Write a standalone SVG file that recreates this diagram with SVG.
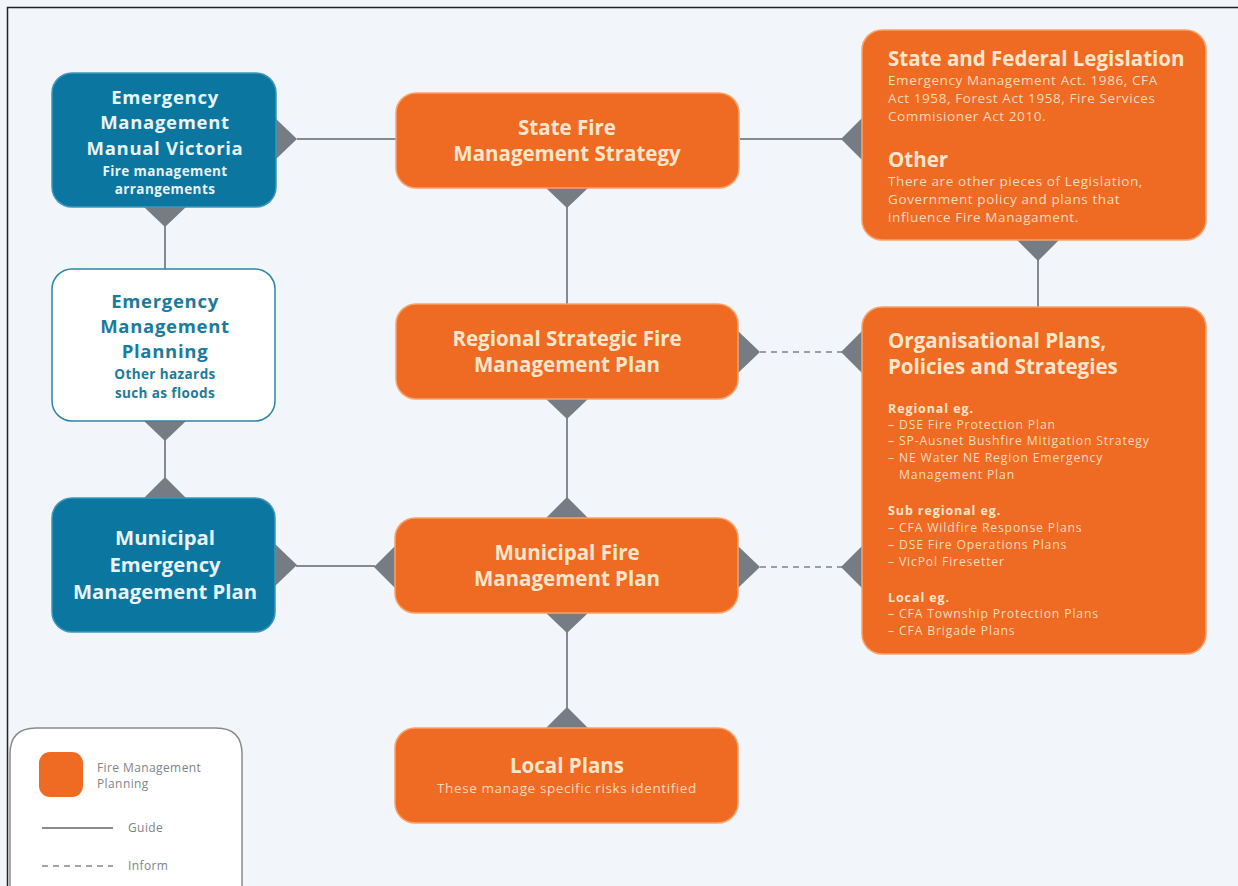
<svg xmlns="http://www.w3.org/2000/svg" width="1238" height="886" viewBox="0 0 1238 886">
<defs>
<style>
.bg{fill:#f2f5f9}
.frame{stroke:#222;stroke-width:1.5;fill:none}
.org{fill:#ef6b23;stroke:#f7a36a;stroke-width:1.5}
.teal{fill:#0b76a0;stroke:#3d97bb;stroke-width:1.5}
.wht{fill:#ffffff;stroke:#2c86a6;stroke-width:1.5}
.dia{fill:#767c84}
.ln{stroke:#858a90;stroke-width:2;fill:none}
.dash{stroke:#9a9fa5;stroke-width:2;fill:none;stroke-dasharray:6 5}
text{font-family:"Open Sans","Noto Sans","Liberation Sans",sans-serif}
.t1{fill:#fde6cc;font-weight:700;font-size:20.5px;text-anchor:middle}
.tw{fill:#e8f4fa;font-weight:700;font-size:20.3px;text-anchor:middle}
.twc{fill:#e8f4fa;font-weight:700;font-size:18.5px;letter-spacing:0.7px;text-anchor:middle}
.tws{fill:#e8f4fa;font-weight:700;font-size:13.5px;letter-spacing:0.4px;text-anchor:middle}
.tt{fill:#1b7b9b;font-weight:700;font-size:18.5px;letter-spacing:0.7px;text-anchor:middle}
.tts{fill:#1b7b9b;font-weight:700;font-size:13.5px;letter-spacing:0.4px;text-anchor:middle}
.h{fill:#fde6cc;font-weight:700;font-size:20.5px}
.b{fill:#fbd9bd;font-size:13.5px;letter-spacing:0.6px}
.s{fill:#fde6cc;font-weight:700;font-size:12.5px;letter-spacing:0.9px}
.l{fill:#fbd9bd;font-size:12.2px;letter-spacing:0.85px}
.lg{fill:#808488;font-size:12px;letter-spacing:0.4px}
</style>
</defs>
<rect class="bg" x="0" y="0" width="1238" height="886"/>
<path class="frame" d="M7.5,886 V7.5 H1238"/>

<g id="connectors">
<line class="ln" x1="297" y1="139" x2="396" y2="139"/>
<line class="ln" x1="740" y1="139" x2="842" y2="139"/>
<line class="ln" x1="165" y1="226" x2="165" y2="270"/>
<line class="ln" x1="165" y1="440" x2="165" y2="478"/>
<line class="ln" x1="296" y1="566" x2="375" y2="566"/>
<line class="ln" x1="567" y1="207" x2="567" y2="304"/>
<line class="ln" x1="567" y1="418" x2="567" y2="498"/>
<line class="ln" x1="567" y1="632" x2="567" y2="708"/>
<line class="ln" x1="1038" y1="259" x2="1038" y2="308"/>
<line class="dash" x1="760" y1="352" x2="842" y2="352"/>
<line class="dash" x1="760" y1="567" x2="842" y2="567"/>
</g>

<g id="diamonds">
<polygon class="dia" points="275,118 297,139 275,160 253,139"/>
<polygon class="dia" points="165,186 186,207 165,227 144,207"/>
<polygon class="dia" points="165,400 186,421 165,441 144,421"/>
<polygon class="dia" points="165,477 186,498 165,519 144,498"/>
<polygon class="dia" points="275,544 297,565 275,586 253,565"/>
<polygon class="dia" points="567,167 588,188 567,208 546,188"/>
<polygon class="dia" points="738,331 760,352 738,373 716,352"/>
<polygon class="dia" points="567,378 588,399 567,419 546,399"/>
<polygon class="dia" points="567,497 588,518 567,539 546,518"/>
<polygon class="dia" points="395,546 374,567 395,588 416,567"/>
<polygon class="dia" points="738,546 760,567 738,588 716,567"/>
<polygon class="dia" points="567,592 588,613 567,633 546,613"/>
<polygon class="dia" points="567,707 588,728 567,749 546,728"/>
<polygon class="dia" points="862,118 841,139 862,160 883,139"/>
<polygon class="dia" points="1038,219 1059,240 1038,261 1017,240"/>
<polygon class="dia" points="862,331 841,352 862,373 883,352"/>
<polygon class="dia" points="862,546 841,567 862,588 883,567"/>
</g>

<g id="emmv">
<rect class="teal" x="52" y="73" width="224" height="134" rx="20"/>
<text class="twc" x="165" y="104">Emergency</text>
<text class="twc" x="165" y="129">Management</text>
<text class="twc" x="165" y="155">Manual Victoria</text>
<text class="tws" x="165" y="176">Fire management</text>
<text class="tws" x="165" y="194">arrangements</text>
</g>

<g id="emp">
<rect class="wht" x="52" y="269" width="223" height="152" rx="20"/>
<text class="tt" x="165" y="308">Emergency</text>
<text class="tt" x="165" y="333">Management</text>
<text class="tt" x="165" y="358">Planning</text>
<text class="tts" x="165" y="379">Other hazards</text>
<text class="tts" x="165" y="398">such as floods</text>
</g>

<g id="memp">
<rect class="teal" x="52" y="498" width="223" height="134" rx="20"/>
<text class="tw" x="165" y="545">Municipal</text>
<text class="tw" x="165" y="572">Emergency</text>
<text class="tw" x="165" y="599">Management Plan</text>
</g>

<g id="state-fire">
<rect class="org" x="396" y="93" width="343" height="95" rx="20"/>
<text class="t1" x="567" y="135">State Fire</text>
<text class="t1" x="567" y="161">Management Strategy</text>
</g>

<g id="regional">
<rect class="org" x="396" y="304" width="342" height="95" rx="20"/>
<text class="t1" x="567" y="346">Regional Strategic Fire</text>
<text class="t1" x="567" y="372">Management Plan</text>
</g>

<g id="municipal-fire">
<rect class="org" x="395" y="518" width="343" height="95" rx="20"/>
<text class="t1" x="567" y="560">Municipal Fire</text>
<text class="t1" x="567" y="586">Management Plan</text>
</g>

<g id="local">
<rect class="org" x="395" y="728" width="343" height="95" rx="20"/>
<text class="t1" x="567" y="773">Local Plans</text>
<text class="b" x="567" y="793" text-anchor="middle">These manage specific risks identified</text>
</g>

<g id="legislation">
<rect class="org" x="862" y="30" width="344" height="210" rx="20"/>
<text class="h" x="888" y="66">State and Federal Legislation</text>
<text class="b" x="888" y="85">Emergency Management Act. 1986, CFA</text>
<text class="b" x="888" y="103">Act 1958, Forest Act 1958, Fire Services</text>
<text class="b" x="888" y="121">Commisioner Act 2010.</text>
<text class="h" x="888" y="167">Other</text>
<text class="b" x="888" y="186">There are other pieces of Legislation,</text>
<text class="b" x="888" y="204">Government policy and plans that</text>
<text class="b" x="888" y="222">influence Fire Managament.</text>
</g>

<g id="organisational">
<rect class="org" x="862" y="307" width="344" height="347" rx="20"/>
<text class="h" x="888" y="348">Organisational Plans,</text>
<text class="h" x="888" y="374">Policies and Strategies</text>
<text class="s" x="888" y="413">Regional eg.</text>
<text class="l" x="888" y="429">– DSE Fire Protection Plan</text>
<text class="l" x="888" y="445">– SP-Ausnet Bushfire Mitigation Strategy</text>
<text class="l" x="888" y="462">– NE Water NE Region Emergency</text>
<text class="l" x="899" y="479">Management Plan</text>
<text class="s" x="888" y="515">Sub regional eg.</text>
<text class="l" x="888" y="532">– CFA Wildfire Response Plans</text>
<text class="l" x="888" y="549">– DSE Fire Operations Plans</text>
<text class="l" x="888" y="566">– VicPol Firesetter</text>
<text class="s" x="888" y="602">Local eg.</text>
<text class="l" x="888" y="618">– CFA Township Protection Plans</text>
<text class="l" x="888" y="635">– CFA Brigade Plans</text>
</g>

<g id="legend">
<path d="M10,900 V754 Q10,728 36,728 H216 Q242,728 242,754 V900" fill="#ffffff" stroke="#8a8a8a" stroke-width="1.5"/>
<rect x="39" y="752" width="44" height="45" rx="11" fill="#ef6b23"/>
<text class="lg" x="97" y="772">Fire Management</text>
<text class="lg" x="97" y="788">Planning</text>
<line x1="42" y1="828" x2="113" y2="828" stroke="#666" stroke-width="1.3"/>
<text class="lg" x="128" y="832">Guide</text>
<line x1="42" y1="866" x2="113" y2="866" stroke="#888" stroke-width="1.3" stroke-dasharray="6 5"/>
<text class="lg" x="128" y="870">Inform</text>
</g>
</svg>
